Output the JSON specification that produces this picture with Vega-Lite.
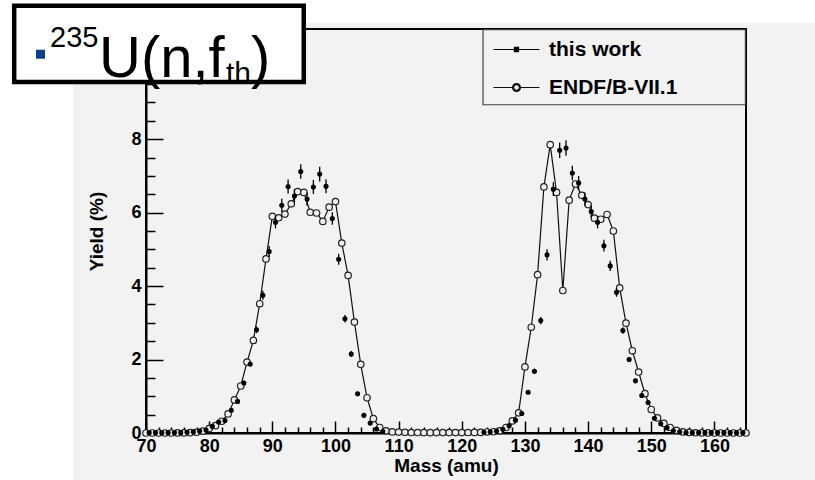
{
  "$schema": "https://vega.github.io/schema/vega-lite/v6.json",
  "width": 600,
  "height": 404,
  "autosize": {"type": "none"},
  "padding": {"left": 146, "top": 29, "right": 69, "bottom": 47},
  "background": "#f2f2f2",
  "config": {
    "view": {"stroke": "#000", "strokeWidth": 2},
    "axis": {
      "domainColor": "#000", "domainWidth": 2, "tickColor": "#000", "tickWidth": 1.5,
      "labelFont": "Liberation Sans", "labelFontWeight": "bold", "labelFontSize": 18, "labelColor": "#000",
      "titleFont": "Liberation Sans", "titleFontWeight": "bold", "titleFontSize": 19, "titleColor": "#000",
      "grid": false, "labelOverlap": false, "labelFlush": false
    }
  },
  "datasets": {
    "endf": [
      {"mass": 70, "yield": 0.0}, {"mass": 71, "yield": 0.0}, {"mass": 72, "yield": 0.0}, {"mass": 73, "yield": 0.0},
      {"mass": 74, "yield": 0.0}, {"mass": 75, "yield": 0.001}, {"mass": 76, "yield": 0.003}, {"mass": 77, "yield": 0.008},
      {"mass": 78, "yield": 0.02}, {"mass": 79, "yield": 0.05}, {"mass": 80, "yield": 0.12}, {"mass": 81, "yield": 0.2},
      {"mass": 82, "yield": 0.32}, {"mass": 83, "yield": 0.52}, {"mass": 84, "yield": 0.9}, {"mass": 85, "yield": 1.28},
      {"mass": 86, "yield": 1.93}, {"mass": 87, "yield": 2.52}, {"mass": 88, "yield": 3.52}, {"mass": 89, "yield": 4.74},
      {"mass": 90, "yield": 5.9}, {"mass": 91, "yield": 5.86}, {"mass": 92, "yield": 5.96}, {"mass": 93, "yield": 6.24},
      {"mass": 94, "yield": 6.57}, {"mass": 95, "yield": 6.55}, {"mass": 96, "yield": 6.01}, {"mass": 97, "yield": 5.99},
      {"mass": 98, "yield": 5.76}, {"mass": 99, "yield": 6.15}, {"mass": 100, "yield": 6.3}, {"mass": 101, "yield": 5.17},
      {"mass": 102, "yield": 4.29}, {"mass": 103, "yield": 3.02}, {"mass": 104, "yield": 1.87}, {"mass": 105, "yield": 0.96},
      {"mass": 106, "yield": 0.39}, {"mass": 107, "yield": 0.15}, {"mass": 108, "yield": 0.06}, {"mass": 109, "yield": 0.03},
      {"mass": 110, "yield": 0.025}, {"mass": 111, "yield": 0.018}, {"mass": 112, "yield": 0.013}, {"mass": 113, "yield": 0.013},
      {"mass": 114, "yield": 0.012}, {"mass": 115, "yield": 0.01}, {"mass": 116, "yield": 0.011}, {"mass": 117, "yield": 0.011},
      {"mass": 118, "yield": 0.011}, {"mass": 119, "yield": 0.011}, {"mass": 120, "yield": 0.012}, {"mass": 121, "yield": 0.013},
      {"mass": 122, "yield": 0.016}, {"mass": 123, "yield": 0.016}, {"mass": 124, "yield": 0.028}, {"mass": 125, "yield": 0.034},
      {"mass": 126, "yield": 0.06}, {"mass": 127, "yield": 0.15}, {"mass": 128, "yield": 0.33}, {"mass": 129, "yield": 0.55},
      {"mass": 130, "yield": 1.8}, {"mass": 131, "yield": 2.88}, {"mass": 132, "yield": 4.31}, {"mass": 133, "yield": 6.7},
      {"mass": 134, "yield": 7.85}, {"mass": 135, "yield": 6.55}, {"mass": 136, "yield": 3.88}, {"mass": 137, "yield": 6.34},
      {"mass": 138, "yield": 6.78}, {"mass": 139, "yield": 6.47}, {"mass": 140, "yield": 6.22}, {"mass": 141, "yield": 5.85},
      {"mass": 142, "yield": 5.82}, {"mass": 143, "yield": 5.95}, {"mass": 144, "yield": 5.5}, {"mass": 145, "yield": 3.95},
      {"mass": 146, "yield": 2.99}, {"mass": 147, "yield": 2.24}, {"mass": 148, "yield": 1.66}, {"mass": 149, "yield": 1.07},
      {"mass": 150, "yield": 0.64}, {"mass": 151, "yield": 0.41}, {"mass": 152, "yield": 0.26}, {"mass": 153, "yield": 0.15},
      {"mass": 154, "yield": 0.07}, {"mass": 155, "yield": 0.03}, {"mass": 156, "yield": 0.015}, {"mass": 157, "yield": 0.006},
      {"mass": 158, "yield": 0.003}, {"mass": 159, "yield": 0.001}, {"mass": 160, "yield": 0.0}, {"mass": 161, "yield": 0.0},
      {"mass": 162, "yield": 0.0}, {"mass": 163, "yield": 0.0}, {"mass": 164, "yield": 0.0}, {"mass": 165, "yield": 0.0}
    ],
    "work": [
      {"mass": 70.5, "yield": 0.01, "err": 0.01}, {"mass": 71.5, "yield": 0.01, "err": 0.01}, {"mass": 72.5, "yield": 0.01, "err": 0.01},
      {"mass": 73.5, "yield": 0.01, "err": 0.01}, {"mass": 74.5, "yield": 0.01, "err": 0.01}, {"mass": 75.5, "yield": 0.01, "err": 0.01},
      {"mass": 76.5, "yield": 0.02, "err": 0.01}, {"mass": 77.5, "yield": 0.03, "err": 0.01}, {"mass": 78.5, "yield": 0.05, "err": 0.01},
      {"mass": 79.5, "yield": 0.08, "err": 0.02}, {"mass": 80.5, "yield": 0.18, "err": 0.02}, {"mass": 81.5, "yield": 0.3, "err": 0.03},
      {"mass": 82.5, "yield": 0.34, "err": 0.03}, {"mass": 83.5, "yield": 0.62, "err": 0.04}, {"mass": 84.5, "yield": 0.86, "err": 0.05},
      {"mass": 85.5, "yield": 1.36, "err": 0.06}, {"mass": 86.5, "yield": 1.88, "err": 0.07}, {"mass": 87.5, "yield": 2.81, "err": 0.09},
      {"mass": 88.5, "yield": 3.75, "err": 0.12}, {"mass": 89.5, "yield": 4.94, "err": 0.15}, {"mass": 90.5, "yield": 5.74, "err": 0.17},
      {"mass": 91.5, "yield": 6.2, "err": 0.18}, {"mass": 92.5, "yield": 6.71, "err": 0.19}, {"mass": 93.5, "yield": 6.45, "err": 0.18},
      {"mass": 94.5, "yield": 7.12, "err": 0.2}, {"mass": 95.5, "yield": 6.37, "err": 0.18}, {"mass": 96.5, "yield": 6.7, "err": 0.19},
      {"mass": 97.5, "yield": 7.05, "err": 0.2}, {"mass": 98.5, "yield": 6.72, "err": 0.19}, {"mass": 99.5, "yield": 5.84, "err": 0.17},
      {"mass": 100.5, "yield": 4.73, "err": 0.15}, {"mass": 101.5, "yield": 3.11, "err": 0.1}, {"mass": 102.5, "yield": 2.15, "err": 0.08},
      {"mass": 103.5, "yield": 1.07, "err": 0.05}, {"mass": 104.5, "yield": 0.48, "err": 0.03}, {"mass": 105.5, "yield": 0.27, "err": 0.02},
      {"mass": 106.5, "yield": 0.11, "err": 0.02}, {"mass": 107.5, "yield": 0.04, "err": 0.01},
      {"mass": 123.5, "yield": 0.02, "err": 0.01}, {"mass": 124.5, "yield": 0.03, "err": 0.01}, {"mass": 125.5, "yield": 0.05, "err": 0.01},
      {"mass": 126.5, "yield": 0.1, "err": 0.02}, {"mass": 127.5, "yield": 0.2, "err": 0.02}, {"mass": 128.5, "yield": 0.35, "err": 0.03},
      {"mass": 129.5, "yield": 0.53, "err": 0.03}, {"mass": 130.5, "yield": 1.11, "err": 0.05}, {"mass": 131.5, "yield": 1.68, "err": 0.07},
      {"mass": 132.5, "yield": 3.06, "err": 0.1}, {"mass": 133.5, "yield": 4.85, "err": 0.15}, {"mass": 134.5, "yield": 6.64, "err": 0.19},
      {"mass": 135.5, "yield": 7.7, "err": 0.21}, {"mass": 136.5, "yield": 7.76, "err": 0.21}, {"mass": 137.5, "yield": 7.08, "err": 0.2},
      {"mass": 138.5, "yield": 6.81, "err": 0.19}, {"mass": 139.5, "yield": 6.37, "err": 0.18}, {"mass": 140.5, "yield": 6.03, "err": 0.17},
      {"mass": 141.5, "yield": 5.74, "err": 0.17}, {"mass": 142.5, "yield": 5.1, "err": 0.16}, {"mass": 143.5, "yield": 4.55, "err": 0.14},
      {"mass": 144.5, "yield": 3.83, "err": 0.12}, {"mass": 145.5, "yield": 2.79, "err": 0.09}, {"mass": 146.5, "yield": 2.0, "err": 0.07},
      {"mass": 147.5, "yield": 1.42, "err": 0.06}, {"mass": 148.5, "yield": 1.02, "err": 0.05}, {"mass": 149.5, "yield": 0.83, "err": 0.04},
      {"mass": 150.5, "yield": 0.4, "err": 0.03}, {"mass": 151.5, "yield": 0.25, "err": 0.02}, {"mass": 152.5, "yield": 0.14, "err": 0.02},
      {"mass": 153.5, "yield": 0.06, "err": 0.01}, {"mass": 154.5, "yield": 0.03, "err": 0.01}, {"mass": 155.5, "yield": 0.01, "err": 0.01},
      {"mass": 156.5, "yield": 0.01, "err": 0.01}, {"mass": 157.5, "yield": 0.01, "err": 0.01}, {"mass": 158.5, "yield": 0.01, "err": 0.01},
      {"mass": 159.5, "yield": 0.01, "err": 0.01}, {"mass": 160.5, "yield": 0.01, "err": 0.01}, {"mass": 161.5, "yield": 0.01, "err": 0.01},
      {"mass": 162.5, "yield": 0.01, "err": 0.01}, {"mass": 163.5, "yield": 0.01, "err": 0.01}, {"mass": 164.5, "yield": 0.01, "err": 0.01}
    ]
  },
  "encoding": {
    "x": {
      "type": "quantitative",
      "scale": {"domain": [70, 165], "nice": false, "zero": false},
      "axis": {
        "title": "Mass (amu)",
        "values": [70,72,74,76,78,80,82,84,86,88,90,92,94,96,98,100,102,104,106,108,110,112,114,116,118,120,122,124,126,128,130,132,134,136,138,140,142,144,146,148,150,152,154,156,158,160,162,164],
        "labelExpr": "datum.value % 10 === 0 ? '' + datum.value : ''",
        "tickSize": {"condition": {"test": "datum.value % 10 === 0", "value": -12}, "value": -6},
        "labelPadding": 16,
        "titlePadding": -5
      }
    },
    "y": {
      "type": "quantitative",
      "scale": {"domain": [0, 11], "nice": false, "zero": false},
      "axis": {
        "title": "Yield (%)",
        "values": [0,0.5,1,1.5,2,2.5,3,3.5,4,4.5,5,5.5,6,6.5,7,7.5,8,8.5,9,9.5,10,10.5],
        "labelExpr": "datum.value % 2 === 0 && datum.value < 9 ? '' + datum.value : ''",
        "tickSize": {"condition": {"test": "datum.value % 2 === 0", "value": -17}, "value": -9},
        "labelPadding": 22,
        "titlePadding": 24.5
      }
    }
  },
  "layer": [
    {
      "data": {"values": [{}]},
      "mark": {"type": "rect", "color": "#ffffff", "clip": false},
      "encoding": {"x": {"datum": 40}, "x2": {"datum": 58.44}, "y": {"datum": -3}, "y2": {"datum": 13}}
    },
    {
      "data": {"values": [{}]},
      "mark": {"type": "rect", "color": "#ffffff", "clip": false},
      "encoding": {"x": {"datum": 40}, "x2": {"datum": 180}, "y": {"datum": 11.17}, "y2": {"datum": 13}}
    },
    {
      "data": {"values": [{}]},
      "mark": {"type": "rect", "fill": "#f2f2f2", "stroke": "#444444", "strokeWidth": 1.2, "clip": false},
      "encoding": {"x": {"datum": 123.36}, "x2": {"datum": 164.9}, "y": {"datum": 8.938}, "y2": {"datum": 10.98}}
    },
    {
      "data": {"name": "endf"},
      "mark": {"type": "line", "strokeWidth": 1.2},
      "encoding": {
        "x": {"field": "mass", "type": "quantitative"},
        "y": {"field": "yield", "type": "quantitative"},
        "color": {
          "datum": "ENDF/B-VII.1",
          "scale": {"domain": ["this work", "ENDF/B-VII.1"], "range": ["#000000", "#111111"]},
          "legend": {
            "title": null, "orient": "none", "legendX": 337, "legendY": 0, "padding": 10, "rowPadding": 16,
            "labelFont": "Liberation Sans", "labelFontWeight": "bold", "labelFontSize": 21, "labelColor": "#000",
            "labelOffset": 22, "symbolOffset": 13, "symbolSize": 361,
            "encode": {
              "symbols": {
                "update": {
                  "shape": {"signal": "datum.value === 'this work' ? 'M-2.42,0H2.42M-0.22,-0.22H0.22V0.22H-0.22Z' : 'M-2.42,0H-0.42M0.42,0H2.42M-0.42,0A0.42,0.42 0 1,1 0.42,0A0.42,0.42 0 1,1 -0.42,0ZM-0.3,0A0.3,0.3 0 1,0 0.3,0A0.3,0.3 0 1,0 -0.3,0Z'"},
                  "fill": {"signal": "datum.value === 'this work' ? '#000000' : '#f2f2f2'"},
                  "stroke": {"value": "#333333"},
                  "strokeWidth": {"value": 1.1},
                  "opacity": {"value": 1},
                  "size": {"value": 361}
                }
              }
            }
          }
        }
      }
    },
    {
      "data": {"name": "endf"},
      "mark": {"type": "point", "shape": "circle", "filled": false, "fill": "#eeeeee", "fillOpacity": 1, "stroke": "#222222", "strokeWidth": 1.2, "size": 42, "opacity": 1},
      "encoding": {
        "x": {"field": "mass", "type": "quantitative"},
        "y": {"field": "yield", "type": "quantitative"}
      }
    },
    {
      "data": {"name": "work"},
      "mark": {"type": "errorbar", "color": "#000000", "thickness": 1.3},
      "encoding": {
        "x": {"field": "mass", "type": "quantitative"},
        "y": {"field": "yield", "type": "quantitative"},
        "yError": {"field": "err"}
      }
    },
    {
      "data": {"name": "work"},
      "mark": {"type": "point", "shape": "circle", "filled": true, "size": 26, "opacity": 1},
      "encoding": {
        "x": {"field": "mass", "type": "quantitative"},
        "y": {"field": "yield", "type": "quantitative"},
        "color": {"datum": "this work"}
      }
    },
    {
      "data": {"values": [{}]},
      "mark": {"type": "rect", "fill": "#ffffff", "stroke": "#000000", "strokeWidth": 4.5, "clip": false},
      "encoding": {"x": {"datum": 49.13}, "x2": {"datum": 94.98}, "y": {"datum": 11.63}, "y2": {"datum": 9.555}}
    },
    {
      "data": {"values": [{}]},
      "mark": {"type": "point", "shape": "square", "filled": true, "color": "#0d3f8f", "size": 81, "opacity": 1, "clip": false},
      "encoding": {"x": {"datum": 53.3}, "y": {"datum": 10.313}}
    },
    {
      "data": {"values": [{}]},
      "mark": {"type": "text", "text": "235", "align": "left", "baseline": "alphabetic", "font": "Liberation Sans", "fontSize": 29, "color": "#000", "clip": false},
      "encoding": {"x": {"datum": 54.8}, "y": {"datum": 10.517}}
    },
    {
      "data": {"values": [{}]},
      "mark": {"type": "text", "text": "U(n,f", "align": "left", "baseline": "alphabetic", "font": "Liberation Sans", "fontSize": 58, "color": "#000", "clip": false},
      "encoding": {"x": {"datum": 62.56}, "y": {"datum": 9.701}}
    },
    {
      "data": {"values": [{}]},
      "mark": {"type": "text", "text": "th", "align": "left", "baseline": "alphabetic", "font": "Liberation Sans", "fontSize": 30, "color": "#000", "clip": false},
      "encoding": {"x": {"datum": 82.67}, "y": {"datum": 9.537}}
    },
    {
      "data": {"values": [{}]},
      "mark": {"type": "text", "text": ")", "align": "left", "baseline": "alphabetic", "font": "Liberation Sans", "fontSize": 58, "color": "#000", "clip": false},
      "encoding": {"x": {"datum": 86.62}, "y": {"datum": 9.701}}
    }
  ]
}
